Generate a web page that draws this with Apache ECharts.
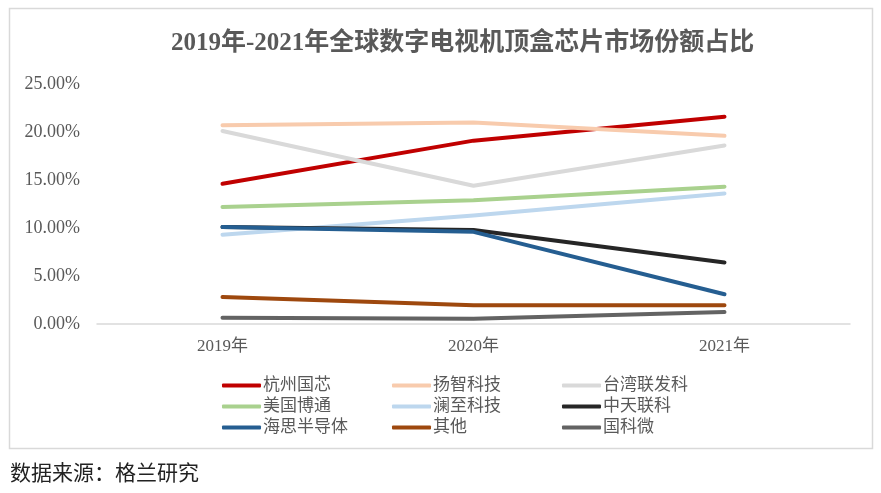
<!DOCTYPE html>
<html>
<head>
<meta charset="utf-8">
<script src="https://cdn.jsdelivr.net/npm/echarts@6/dist/echarts.min.js"></script>
<style>
  html, body { margin: 0; padding: 0; background: #fff; }
  #main { width: 881px; height: 493px; }
</style>
</head>
<body>
<div id="main"></div>
<script>
const years = ['2019年', '2020年', '2021年']
const names = ['杭州国芯', '扬智科技', '台湾联发科', '美国博通', '澜至科技', '中天联科', '海思半导体', '其他', '国科微']
const colors = ['#C00000', '#F8CBAD', '#D9D9D9', '#A9D18E', '#BDD7EE', '#262626', '#255E91', '#9E480E', '#636363']

// 市场份额 (%)
const hangzhouGuoxin = [14.6, 19.1, 21.6]
const yangzhi = [20.7, 21.0, 19.6]
const mediatek = [20.1, 14.4, 18.6]
const broadcom = [12.2, 12.9, 14.3]
const montage = [9.3, 11.3, 13.6]
const zhongtian = [10.1, 9.8, 6.4]
const hisilicon = [10.1, 9.6, 3.1]
const others = [2.8, 1.95, 1.95]
const goke = [0.65, 0.55, 1.25]
const seriesValues = [hangzhouGuoxin, yangzhi, mediatek, broadcom, montage, zhongtian, hisilicon, others, goke]

const yTicks = { min: 0, max: 25, interval: 5 }

const serifFont = '"Liberation Serif", "Times New Roman", "Noto Sans CJK SC", serif'
const textGray = '#595959'

const chart = echarts.init(document.getElementById('main'))

// 图例分三列
const legendCol = (idx, left) => ({
  orient: 'vertical',
  left: left,
  top: 372,
  itemGap: 4,
  itemWidth: 39,
  itemHeight: 4,
  icon: 'roundRect',
  data: [names[idx], names[idx + 3], names[idx + 6]],
  textStyle: {
    color: textGray,
    fontSize: 17,
    fontFamily: serifFont,
    padding: [0, 0, 0, -3]
  }
})

const option = {
  backgroundColor: '#fff',
  animation: false,
  title: {
    text: '2019年-2021年全球数字电视机顶盒芯片市场份额占比',
    left: 166,
    top: 26,
    textStyle: {
      color: textGray,
      fontSize: 25,
      fontWeight: 'bold',
      fontFamily: serifFont
    }
  },
  grid: {
    left: 97,
    right: 31,
    top: 84,
    bottom: 169
  },
  legend: [legendCol(0, 217), legendCol(1, 387), legendCol(2, 557)],
  xAxis: {
    type: 'category',
    data: years,
    axisTick: { show: false },
    axisLine: { lineStyle: { color: '#D9D9D9', width: 1.5 } },
    axisLabel: {
      color: textGray,
      fontSize: 17,
      fontFamily: serifFont,
      margin: 14
    }
  },
  yAxis: {
    type: 'value',
    min: yTicks.min,
    max: yTicks.max,
    interval: yTicks.interval,
    axisLine: { show: false },
    axisTick: { show: false },
    splitLine: { show: false },
    axisLabel: {
      color: textGray,
      fontSize: 18,
      fontFamily: serifFont,
      margin: 17,
      formatter: v => v.toFixed(2) + '%'
    }
  },
  series: names.map((name, i) => ({
    name: name,
    type: 'line',
    data: seriesValues[i],
    symbol: 'none',
    color: colors[i],
    lineStyle: { width: 4, cap: 'round', join: 'round' }
  })),
  graphic: [
    {
      type: 'rect',
      shape: { x: 9.5, y: 8.5, width: 863, height: 440 },
      style: { fill: 'none', stroke: '#D9D9D9', lineWidth: 1.5 },
      silent: true,
      z: -1
    },
    {
      type: 'text',
      left: 10,
      top: 464,
      style: {
        text: '数据来源：格兰研究',
        fill: '#222',
        fontSize: 21,
        fontFamily: serifFont
      }
    }
  ]
}

option && chart.setOption(option)

window.addEventListener('resize', function () {
  chart.resize()
})
</script>
</body>
</html>
